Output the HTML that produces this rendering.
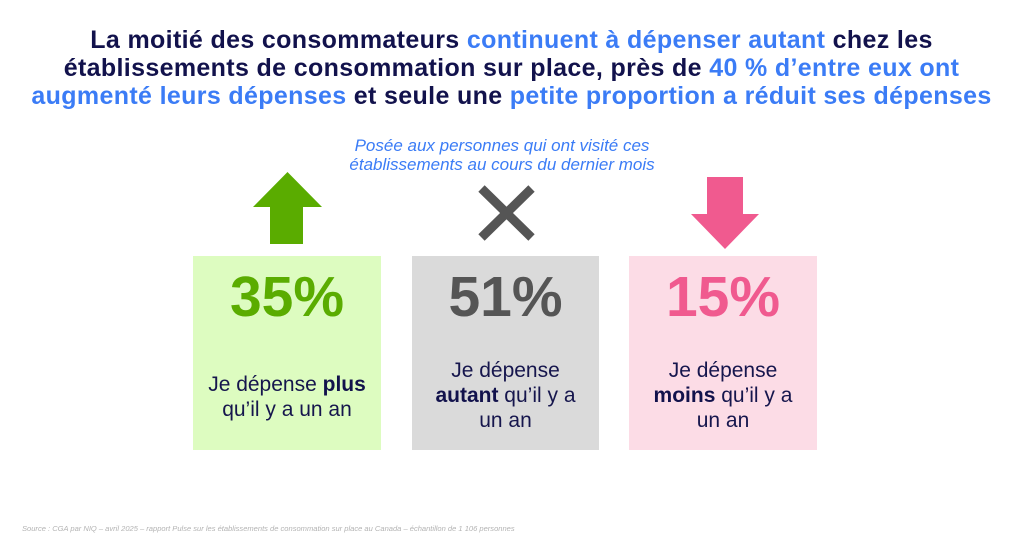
<!DOCTYPE html>
<html>
<head>
<meta charset="utf-8">
<style>
  html,body{margin:0;padding:0;background:#fff;}
  body{width:1023px;height:537px;position:relative;overflow:hidden;font-family:"Liberation Sans",Arial,sans-serif;}
  .title{position:absolute;left:0;top:26px;width:1023px;text-align:center;font-weight:bold;font-size:25px;letter-spacing:0.35px;line-height:28px;color:#12124c;white-space:nowrap;}
  .b{color:#3b7cf6;}
  .sub{position:absolute;left:252px;top:136px;width:500px;text-align:center;font-style:italic;font-size:17px;line-height:19px;color:#3b7cf6;white-space:nowrap;}
  .box{position:absolute;top:256px;height:194px;}
  .pct{position:absolute;left:0;width:100%;top:13px;text-align:center;font-weight:bold;font-size:57px;line-height:57px;}
  .lab{position:absolute;left:0;width:100%;text-align:center;font-size:21px;line-height:25px;color:#16164d;white-space:nowrap;}
  .lab b{color:#12124c;}
  .foot{position:absolute;left:22px;top:524px;font-style:italic;font-size:7.55px;line-height:10px;color:#b3b3b3;white-space:nowrap;}
</style>
</head>
<body>
<div class="title">La moitié des consommateurs <span class="b">continuent à dépenser autant</span> chez les<br>établissements de consommation sur place, près de <span class="b">40 % d’entre eux ont</span><br><span class="b">augmenté leurs dépenses</span> et seule une <span class="b">petite proportion a réduit ses dépenses</span></div>

<div class="sub">Posée aux personnes qui ont visité ces<br>établissements au cours du dernier mois</div>

<svg style="position:absolute;left:0;top:0" width="1023" height="537">
  <polygon points="253,207 287.5,172 322,207 303,207 303,244 270,244 270,207" fill="#5aac00"/>
  <line x1="481.5" y1="188.5" x2="531.5" y2="237.5" stroke="#555555" stroke-width="9"/>
  <line x1="531.5" y1="188.5" x2="481.5" y2="237.5" stroke="#555555" stroke-width="9"/>
  <polygon points="707,177 743,177 743,214 759,214 725,249 691,214 707,214" fill="#f05a8f"/>
</svg>

<div class="box" style="left:193px;width:188px;background:#ddfcc0;">
  <div class="pct" style="color:#5aac00;">35%</div>
  <div class="lab" style="top:116px;">Je dépense <b>plus</b><br>qu’il y a un an</div>
</div>
<div class="box" style="left:412px;width:187px;background:#dadada;">
  <div class="pct" style="color:#555555;">51%</div>
  <div class="lab" style="top:102px;">Je dépense<br><b>autant</b> qu’il y a<br>un an</div>
</div>
<div class="box" style="left:629px;width:188px;background:#fcdce6;">
  <div class="pct" style="color:#f05a8f;">15%</div>
  <div class="lab" style="top:102px;">Je dépense<br><b>moins</b> qu’il y a<br>un an</div>
</div>

<div class="foot">Source : CGA par NIQ – avril 2025 – rapport Pulse sur les établissements de consommation sur place au Canada – échantillon de 1 106 personnes</div>
</body>
</html>
